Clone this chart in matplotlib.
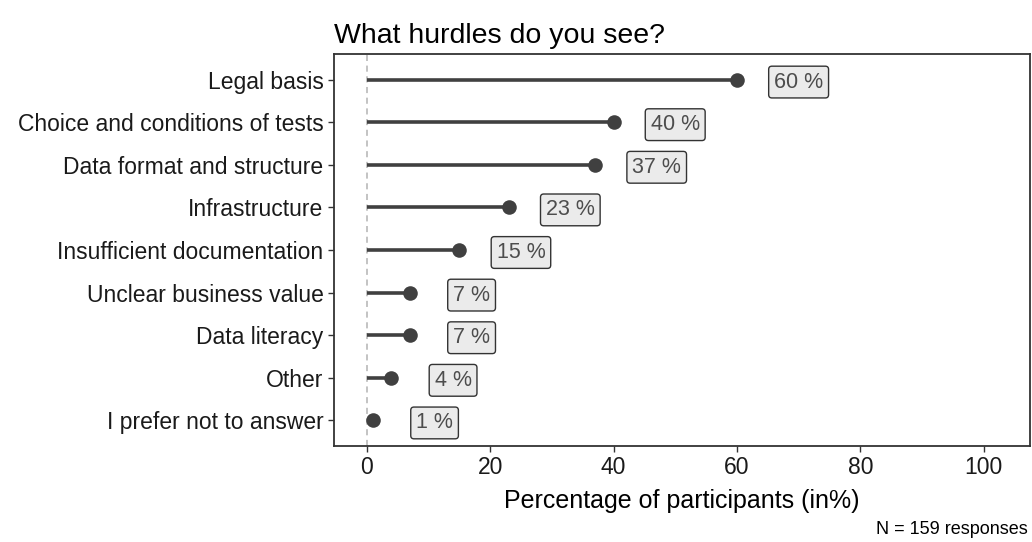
import matplotlib
matplotlib.use("Agg")
import matplotlib.pyplot as plt

plt.rcParams['font.family'] = ['Liberation Sans', 'DejaVu Sans']

# data (top to bottom)
categories = ["Legal basis", "Choice and conditions of tests", "Data format and structure",
              "Infrastructure", "Insufficient documentation", "Unclear business value",
              "Data literacy", "Other", "I prefer not to answer"]
percentages = [60, 40, 37, 23, 15, 7, 7, 4, 1]
label_offset = 10
n_responses = 159

title = "What hurdles do you see?"
x_label = "Percentage of participants (in%)"
x_ticks = [0, 20, 40, 60, 80, 100]

dark = '#404040'
frame = '#333333'

fig = plt.figure(figsize=(10.32, 5.42), dpi=100)
ax = fig.add_axes([334 / 1032, 1 - 446 / 542, (1030 - 334) / 1032, (446 - 54) / 542])

ypos = list(range(len(categories)))

ax.axvline(0, color='#b3b3b3', linestyle=(0, (4, 3)), linewidth=1.1, zorder=1)
ax.hlines(ypos, 0, percentages, color=dark, linewidth=2.6, zorder=2)
ax.scatter(percentages, ypos, s=110, color=dark, zorder=3, linewidths=0)

for y, v in zip(ypos, percentages):
    ax.text(v + label_offset, y, f"{v} %", ha='center', va='center_baseline', fontsize=15.5,
            color='#4d4d4d', zorder=4,
            bbox=dict(boxstyle='round,pad=0.25,rounding_size=0.15', facecolor='#ebebeb',
                      edgecolor='#333333', linewidth=1.0))

ax.set_xlim(-5.3, 107.5)
ax.set_ylim(len(categories) - 1 + 0.6, -0.6)
ax.set_yticks(ypos)
ax.set_yticklabels(categories)
ax.set_xticks(x_ticks)

for s in ax.spines.values():
    s.set_color(frame)
    s.set_linewidth(1.3)

ax.tick_params(axis='both', colors=frame, length=4.5, width=1, labelsize=16.5, labelcolor='#1a1a1a')
ax.tick_params(axis='x', pad=3)
ax.tick_params(axis='y', pad=3)

ax.set_xlabel(x_label, fontsize=18, color='black', labelpad=7)
ax.set_title(title, fontsize=20.5, color='black', loc='left', pad=8)

fig.text(1028 / 1032, 1 - 530 / 542, f"N = {n_responses} responses", ha='right', va='center',
         fontsize=13, color='black')

fig.savefig("out.png", dpi=100)
